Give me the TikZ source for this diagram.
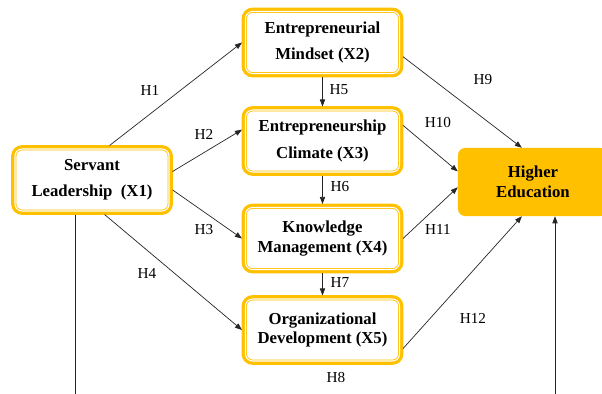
\documentclass[tikz,border=0pt]{standalone}
\usepackage{fontspec}
\setmainfont{Liberation Serif}
\usetikzlibrary{arrows.meta}
\definecolor{gold}{HTML}{FFC000}
\tikzset{
  var/.style={preaction={draw=gold,line width=6.5pt},fill=white,draw=gold,
    line width=.7pt,double=white,double distance=.9pt,rounded corners=6pt,
    outer sep=3pt,align=center,minimum width=4.62cm,minimum height=1.86cm,
    font=\fontsize{14.3}{16.5}\selectfont\bfseries},
  goal/.style={fill=gold,rounded corners=6pt,align=center,
    minimum width=4.5cm,minimum height=2.04cm,
    font=\fontsize{14.3}{17}\selectfont\bfseries},
  arr/.style={draw=black!85,line width=.6pt,-{Triangle[length=6pt,width=4.5pt]}},
  hyp/.style={font=\fontsize{13}{15}\selectfont}
}
\begin{document}
\begin{tikzpicture}[x=.03cm,y=-.03cm]
      \useasboundingbox (0,0) rectangle (602,394);
      \clip (0,0) rectangle (602,394);
      % variables
      \node[var] (x1) at (92,180) {Servant\\[6pt]Leadership\ \ (X1)};
      \node[var] (x2) at (322.5,42.5) {Entrepreneurial\\[6pt]Mindset (X2)};
      \node[var] (x3) at (322.5,141) {Entrepreneurship\\[6pt]Climate (X3)};
      \node[var] (x4) at (322.5,238.5) {Knowledge\\Management (X4)};
      \node[var] (x5) at (322.5,330) {Organizational\\Development (X5)};
      \node[goal] (he) at (533,182) {Higher\\Education};
      \coordinate (m1) at (75,394);
      \coordinate (m2) at (555,394);
      % paths
      \draw[arr] (x1.63) -- (x2.west);
      \draw[arr] (x1.6) -- (x3.172);
      \draw[arr] (x1.-7) -- (x4.west);
      \draw[arr] (x1.-70) -- (x5.west);
      \draw[arr] (x2) -- (x3);
      \draw[arr] (x3) -- (x4);
      \draw[arr] (x4) -- (x5);
      \draw[arr] (x2.-10) -- (he.108);
      \draw[arr] (x3.11) -- (he.172);
      \draw[arr] (x4.east) -- (he.184);
      \draw[arr] (x5.-13) -- (he.-108);
      \draw[draw=black!85,line width=.6pt] (x1.south -| m1) -- (m1);
      \draw[arr] (m2) -- (m2 |- he.south);
      % hypotheses
      \node[hyp] (h1) at (150,90) {H1};
      \node[hyp] (h2) at (204,134) {H2};
      \node[hyp] (h3) at (204,230) {H3};
      \node[hyp] (h4) at (147,273) {H4};
      \node[hyp] (h5) at (339,90) {H5};
      \node[hyp] (h6) at (340,187) {H6};
      \node[hyp] (h7) at (340,283) {H7};
      \node[hyp] (h8) at (336,378) {H8};
      \node[hyp] (h9) at (483,80) {H9};
      \node[hyp] (h10) at (438,123) {H10};
      \node[hyp] (h11) at (438,229) {H11};
      \node[hyp] (h12) at (473,318) {H12};
    \end{tikzpicture}
\end{document}
